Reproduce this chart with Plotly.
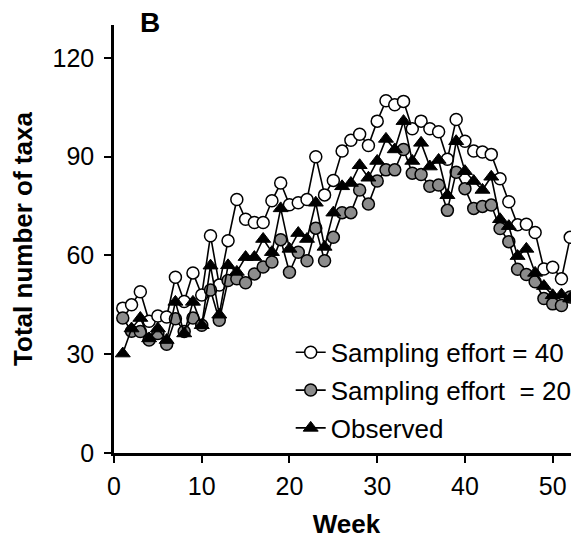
import plotly.graph_objects as go

weeks = list(range(1, 54))

effort40 = [44, 45, 49, 40, 41.6, 41.3, 53.4, 46, 54.7, 48,
            66, 51, 64.5, 77, 71, 70, 70, 76.6, 82, 75.4,
            76, 77, 90, 78.4, 82.8, 91.7, 95, 96.8, 93.4, 100.8,
            107, 105.8, 106.8, 98.5, 100.8, 98.5, 97.6, 89.2, 101.3, 94.7,
            91.7, 91.4, 90.7, 83.3, 76.3, 69.3, 69.5, 67, 55.9, 56.4,
            52.9, 65.5, 55.9]

effort20 = [41, 37, 36.9, 34.3, 36.3, 33, 40.8, 36.9, 41, 38.8,
            49.5, 40.3, 52.4, 52.9, 51.7, 54.4, 56.5, 58, 64.8, 54.9,
            61, 58.4, 68.3, 58.4, 65.5, 73, 73, 79.9, 75.6, 82.6,
            86, 86, 92.2, 85, 84.6, 81, 81.4, 73.7, 85.3, 80.3,
            74.3, 74.9, 75.3, 68.2, 64.2, 55.8, 54.2, 52, 46.9, 45.3,
            44.8, 47.4, 44.3]

observed = [30.2, 37.8, 41, 34.8, 37.8, 34.3, 45.9, 36.3, 45.9, 38.8,
            56.9, 42, 57, 55, 59.5, 59.5, 65, 61, 74.3, 62,
            66.8, 65, 76, 62.6, 73, 81, 82, 87.4, 83.6, 88.7,
            95.4, 92.2, 100.8, 88.7, 94.2, 87, 89, 78.3, 94.7, 85.6,
            82.6, 79.9, 83.9, 71, 68.9, 59.8, 62, 54.7, 50.7, 47.9,
            48.1, 46.9, 42.3]

series_names = ["Sampling effort = 40", "Sampling effort  = 20", "Observed"]
y_ticks = [0, 30, 60, 90, 120]
x_ticks = [0, 10, 20, 30, 40, 50]

FONT = "Arial, Liberation Sans, sans-serif"

fig = go.Figure()
fig.add_trace(go.Scatter(
    x=weeks, y=effort40, name=series_names[0], mode="lines+markers",
    legendgroup="a",
    line=dict(color="black", width=1.6),
    marker=dict(symbol="circle", size=12, color="white",
                line=dict(color="black", width=1.5)),
    cliponaxis=False))
fig.add_trace(go.Scatter(
    x=weeks, y=effort20, name=series_names[1], mode="lines+markers",
    legendgroup="b",
    line=dict(color="black", width=1.6),
    marker=dict(symbol="circle", size=12, color="#8c8c8c",
                line=dict(color="black", width=1.5)),
    cliponaxis=False))
fig.add_trace(go.Scatter(
    x=weeks, y=observed, name=series_names[2], mode="lines+markers",
    legendgroup="c",
    line=dict(color="black", width=1.6),
    marker=dict(symbol="triangle-up", size=13, color="black",
                line=dict(color="black", width=1)),
    cliponaxis=False))

# page has an 8px body margin; the figure is shifted accordingly
fig.update_layout(
    width=571, height=536,
    margin=dict(l=106, r=0, t=17, b=91),
    paper_bgcolor="white", plot_bgcolor="white",
    font=dict(family=FONT, size=26, color="black"),
    showlegend=True,
    legend=dict(x=0.38, y=0.29, xanchor="left", yanchor="top",
                bgcolor="rgba(0,0,0,0)", tracegroupgap=1,
                font=dict(family=FONT, size=26, color="black"),
                traceorder="grouped"),
    xaxis=dict(range=[0, 53], tickvals=x_ticks, showline=True, linecolor="black",
               linewidth=2.5, ticks="outside", ticklen=7, tickwidth=2,
               tickcolor="black", showgrid=False, zeroline=False,
               automargin=False, ticklabelstandoff=2,
               tickfont=dict(family=FONT, size=25),
               title=dict(text="<b>Week</b>", font=dict(family=FONT, size=26),
                          standoff=17)),
    yaxis=dict(range=[0, 130], tickvals=y_ticks, showline=True, linecolor="black",
               linewidth=2.5, ticks="outside", ticklen=7, tickwidth=2,
               tickcolor="black", showgrid=False, zeroline=False,
               automargin=False, ticklabelstandoff=5,
               tickfont=dict(family=FONT, size=25),
               title=dict(text="<b>Total number of taxa</b>",
                          font=dict(family=FONT, size=26), standoff=16)),
    annotations=[dict(text="<b>B</b>", x=(150 - 114) / 465, y=(453 - 22) / 428,
                      xref="paper", yref="paper", xanchor="center", yanchor="middle",
                      showarrow=False, font=dict(family=FONT, size=28))],
)

fig.write_html("out.html")
